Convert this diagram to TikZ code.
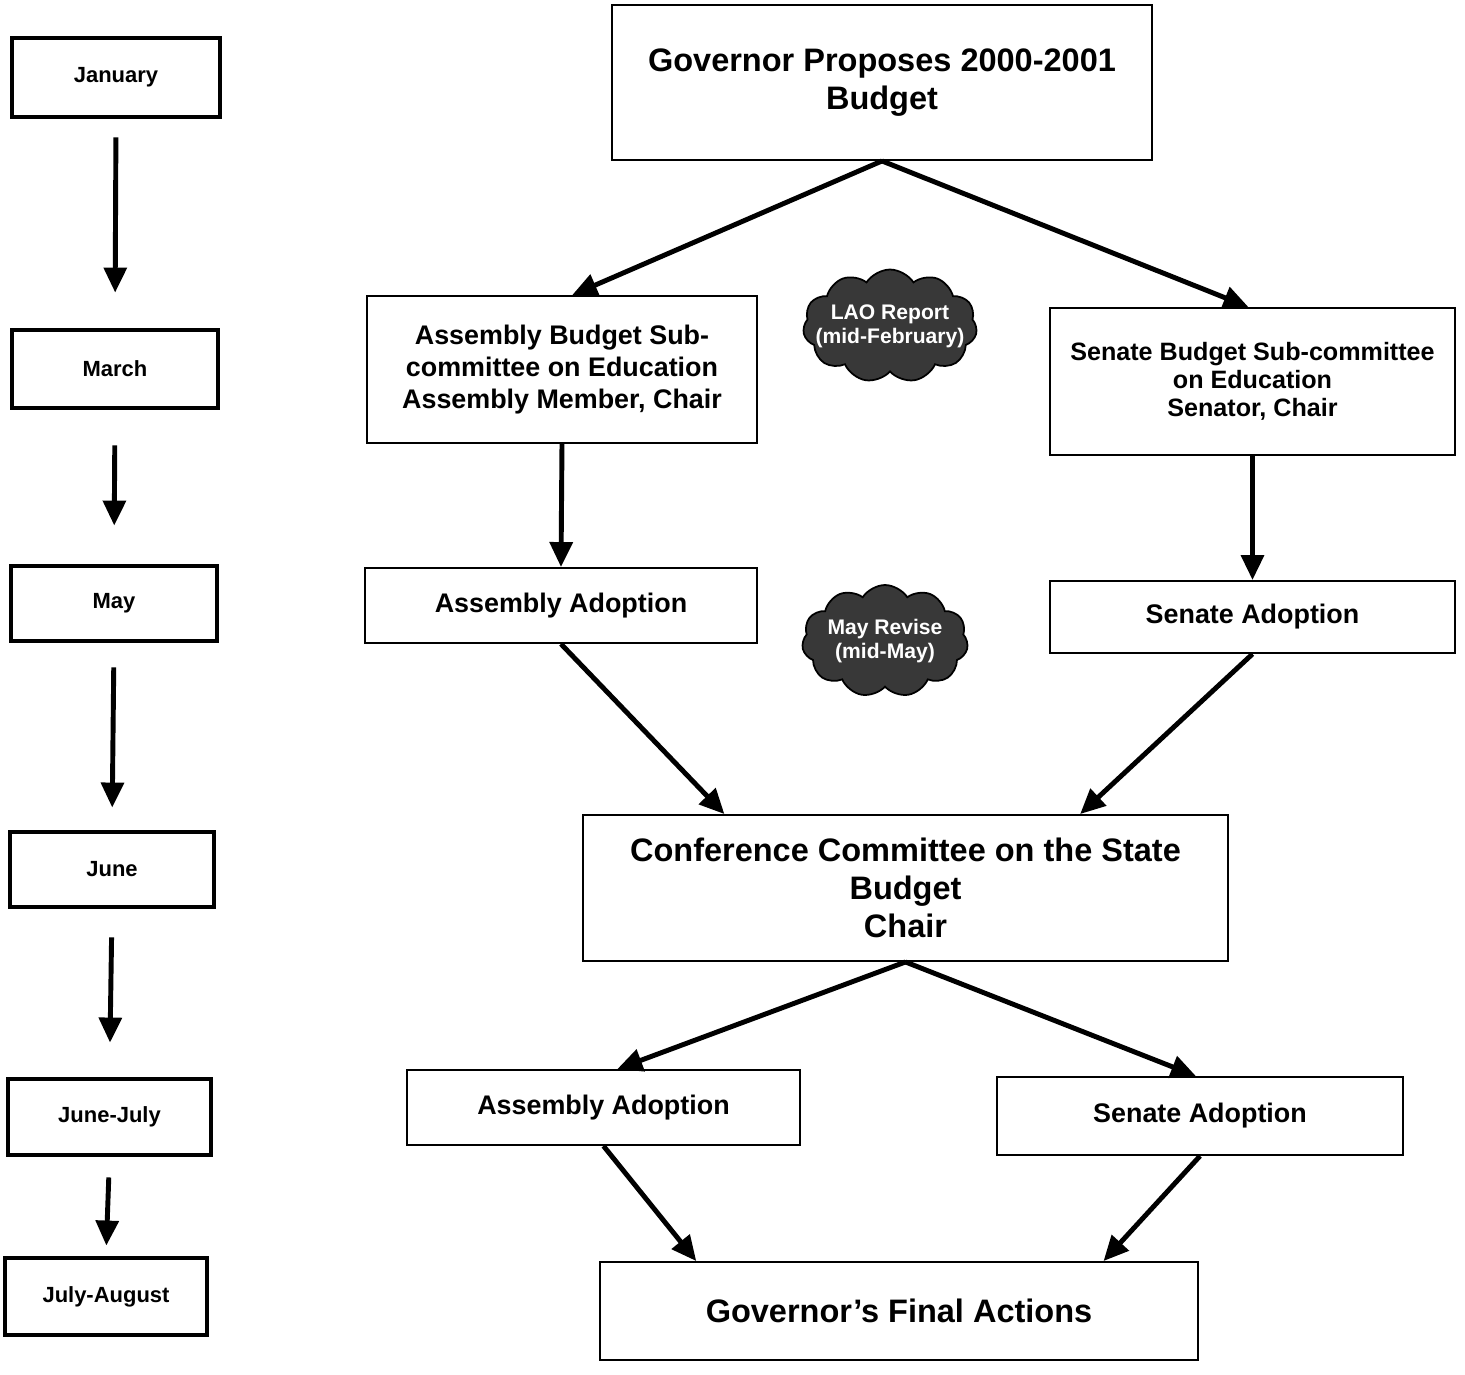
\documentclass[tikz,border=0pt]{standalone}
\usepackage{fontspec}
\setmainfont{Liberation Sans}
\usetikzlibrary{arrows.meta,shapes.symbols,calc}
\begin{document}
\begin{tikzpicture}[x=0.02cm,y=-0.02cm,
  box/.style={draw=black, line width=1.1pt, rectangle, align=center, inner sep=2pt, font=\bfseries},
  month/.style={draw=black, line width=2.8pt, rectangle, align=center, font=\fontsize{12.5}{14}\selectfont\bfseries},
  big/.style={font=\fontsize{18.5}{21.5}\selectfont\bfseries},
  mid/.style={font=\fontsize{15.3}{18}\selectfont\bfseries},
  arr/.style={line width=2.8pt, -{Triangle[length=0.5cm,width=0.45cm]}},
  cloudy/.style={cloud, cloud puffs=11, cloud puff arc=115, aspect=1.6, fill=black!78, draw=black, line width=1pt, inner sep=0pt},
  cloudtext/.style={text=white, align=center, inner sep=0pt, font=\fontsize{12}{13.5}\selectfont\bfseries}
]
\useasboundingbox (0,0) rectangle (1465,1374);

% month column
\node[month, minimum width=4.16cm, minimum height=1.58cm] (jan) at (116,77.5) {January};
\node[month, minimum width=4.12cm, minimum height=1.56cm] (mar) at (115,369) {March};
\node[month, minimum width=4.12cm, minimum height=1.5cm] (may) at (114,603.5) {May};
\node[month, minimum width=4.08cm, minimum height=1.5cm] (jun) at (112,869.5) {June};
\node[month, minimum width=4.06cm, minimum height=1.52cm] (jj) at (109.5,1117) {June-July};
\node[month, minimum width=4.04cm, minimum height=1.54cm] (ja) at (106,1296.5) {July-August};

\draw[arr, shorten <=0.36cm, shorten >=0.7cm] (jan.south) -- (mar.north);
\draw[arr, shorten <=0.7cm, shorten >=0.76cm] (mar.south) -- (may.north);
\draw[arr, shorten <=0.48cm, shorten >=0.44cm] (may.south) -- (jun.north);
\draw[arr, shorten <=0.56cm, shorten >=0.68cm] (jun.south) -- (jj.north);
\draw[arr, shorten <=0.4cm, shorten >=0.2cm] (jj.south) -- (ja.north);

% main flow
\node[box, big, minimum width=10.8cm, minimum height=3.1cm] (gov) at (882,82.5) {Governor Proposes 2000-2001\\Budget};
\node[box, mid, minimum width=7.8cm, minimum height=2.94cm] (asub) at (562,369.5) {Assembly Budget Sub-\\committee on Education\\Assembly Member, Chair};
\node[box, font=\fontsize{14.3}{16}\selectfont\bfseries, minimum width=8.1cm, minimum height=2.94cm] (ssub) at (1252.5,381.5) {Senate Budget Sub-committee\\on Education\\Senator, Chair};
\node[box, mid, minimum width=7.84cm, minimum height=1.5cm] (aad1) at (561,605.5) {Assembly Adoption};
\node[box, mid, minimum width=8.1cm, minimum height=1.44cm] (sad1) at (1252.5,617) {Senate Adoption};
\node[box, big, minimum width=12.9cm, minimum height=2.92cm] (conf) at (905.5,888) {Conference Committee on the State\\Budget\\Chair};
\node[box, mid, minimum width=7.86cm, minimum height=1.5cm] (aad2) at (603.5,1107.5) {Assembly Adoption};
\node[box, mid, minimum width=8.12cm, minimum height=1.56cm] (sad2) at (1200,1116) {Senate Adoption};
\node[box, big, minimum width=11.96cm, minimum height=1.96cm] (fin) at (899,1311) {Governor's Final Actions};

\node[cloudy, minimum width=3.48cm, minimum height=2.26cm] (lao) at (890,326) {};
\node[cloudtext] (laot) at (lao.center) {LAO Report\\(mid-February)};
\node[cloudy, minimum width=3.32cm, minimum height=2.24cm] (mrev) at (885,641) {};
\node[cloudtext] (mrevt) at (mrev.center) {May Revise\\(mid-May)};

\draw[arr] (gov.south) -- ($(asub.north west)!0.526!(asub.north east)$);
\draw[arr] (gov.south) -- ($(ssub.north west)!0.49!(ssub.north east)$);
\draw[arr] (asub.south) -- (aad1.north);
\draw[arr] (ssub.south) -- (sad1.north);
\draw[arr] (aad1.south) -- ($(conf.north west)!0.22!(conf.north east)$);
\draw[arr] (sad1.south) -- ($(conf.north west)!0.77!(conf.north east)$);
\draw[arr] (conf.south) -- ($(aad2.north west)!0.535!(aad2.north east)$);
\draw[arr] (conf.south) -- ($(sad2.north west)!0.49!(sad2.north east)$);
\draw[arr] (aad2.south) -- ($(fin.north west)!0.162!(fin.north east)$);
\draw[arr] (sad2.south) -- ($(fin.north west)!0.841!(fin.north east)$);
\end{tikzpicture}
\end{document}
